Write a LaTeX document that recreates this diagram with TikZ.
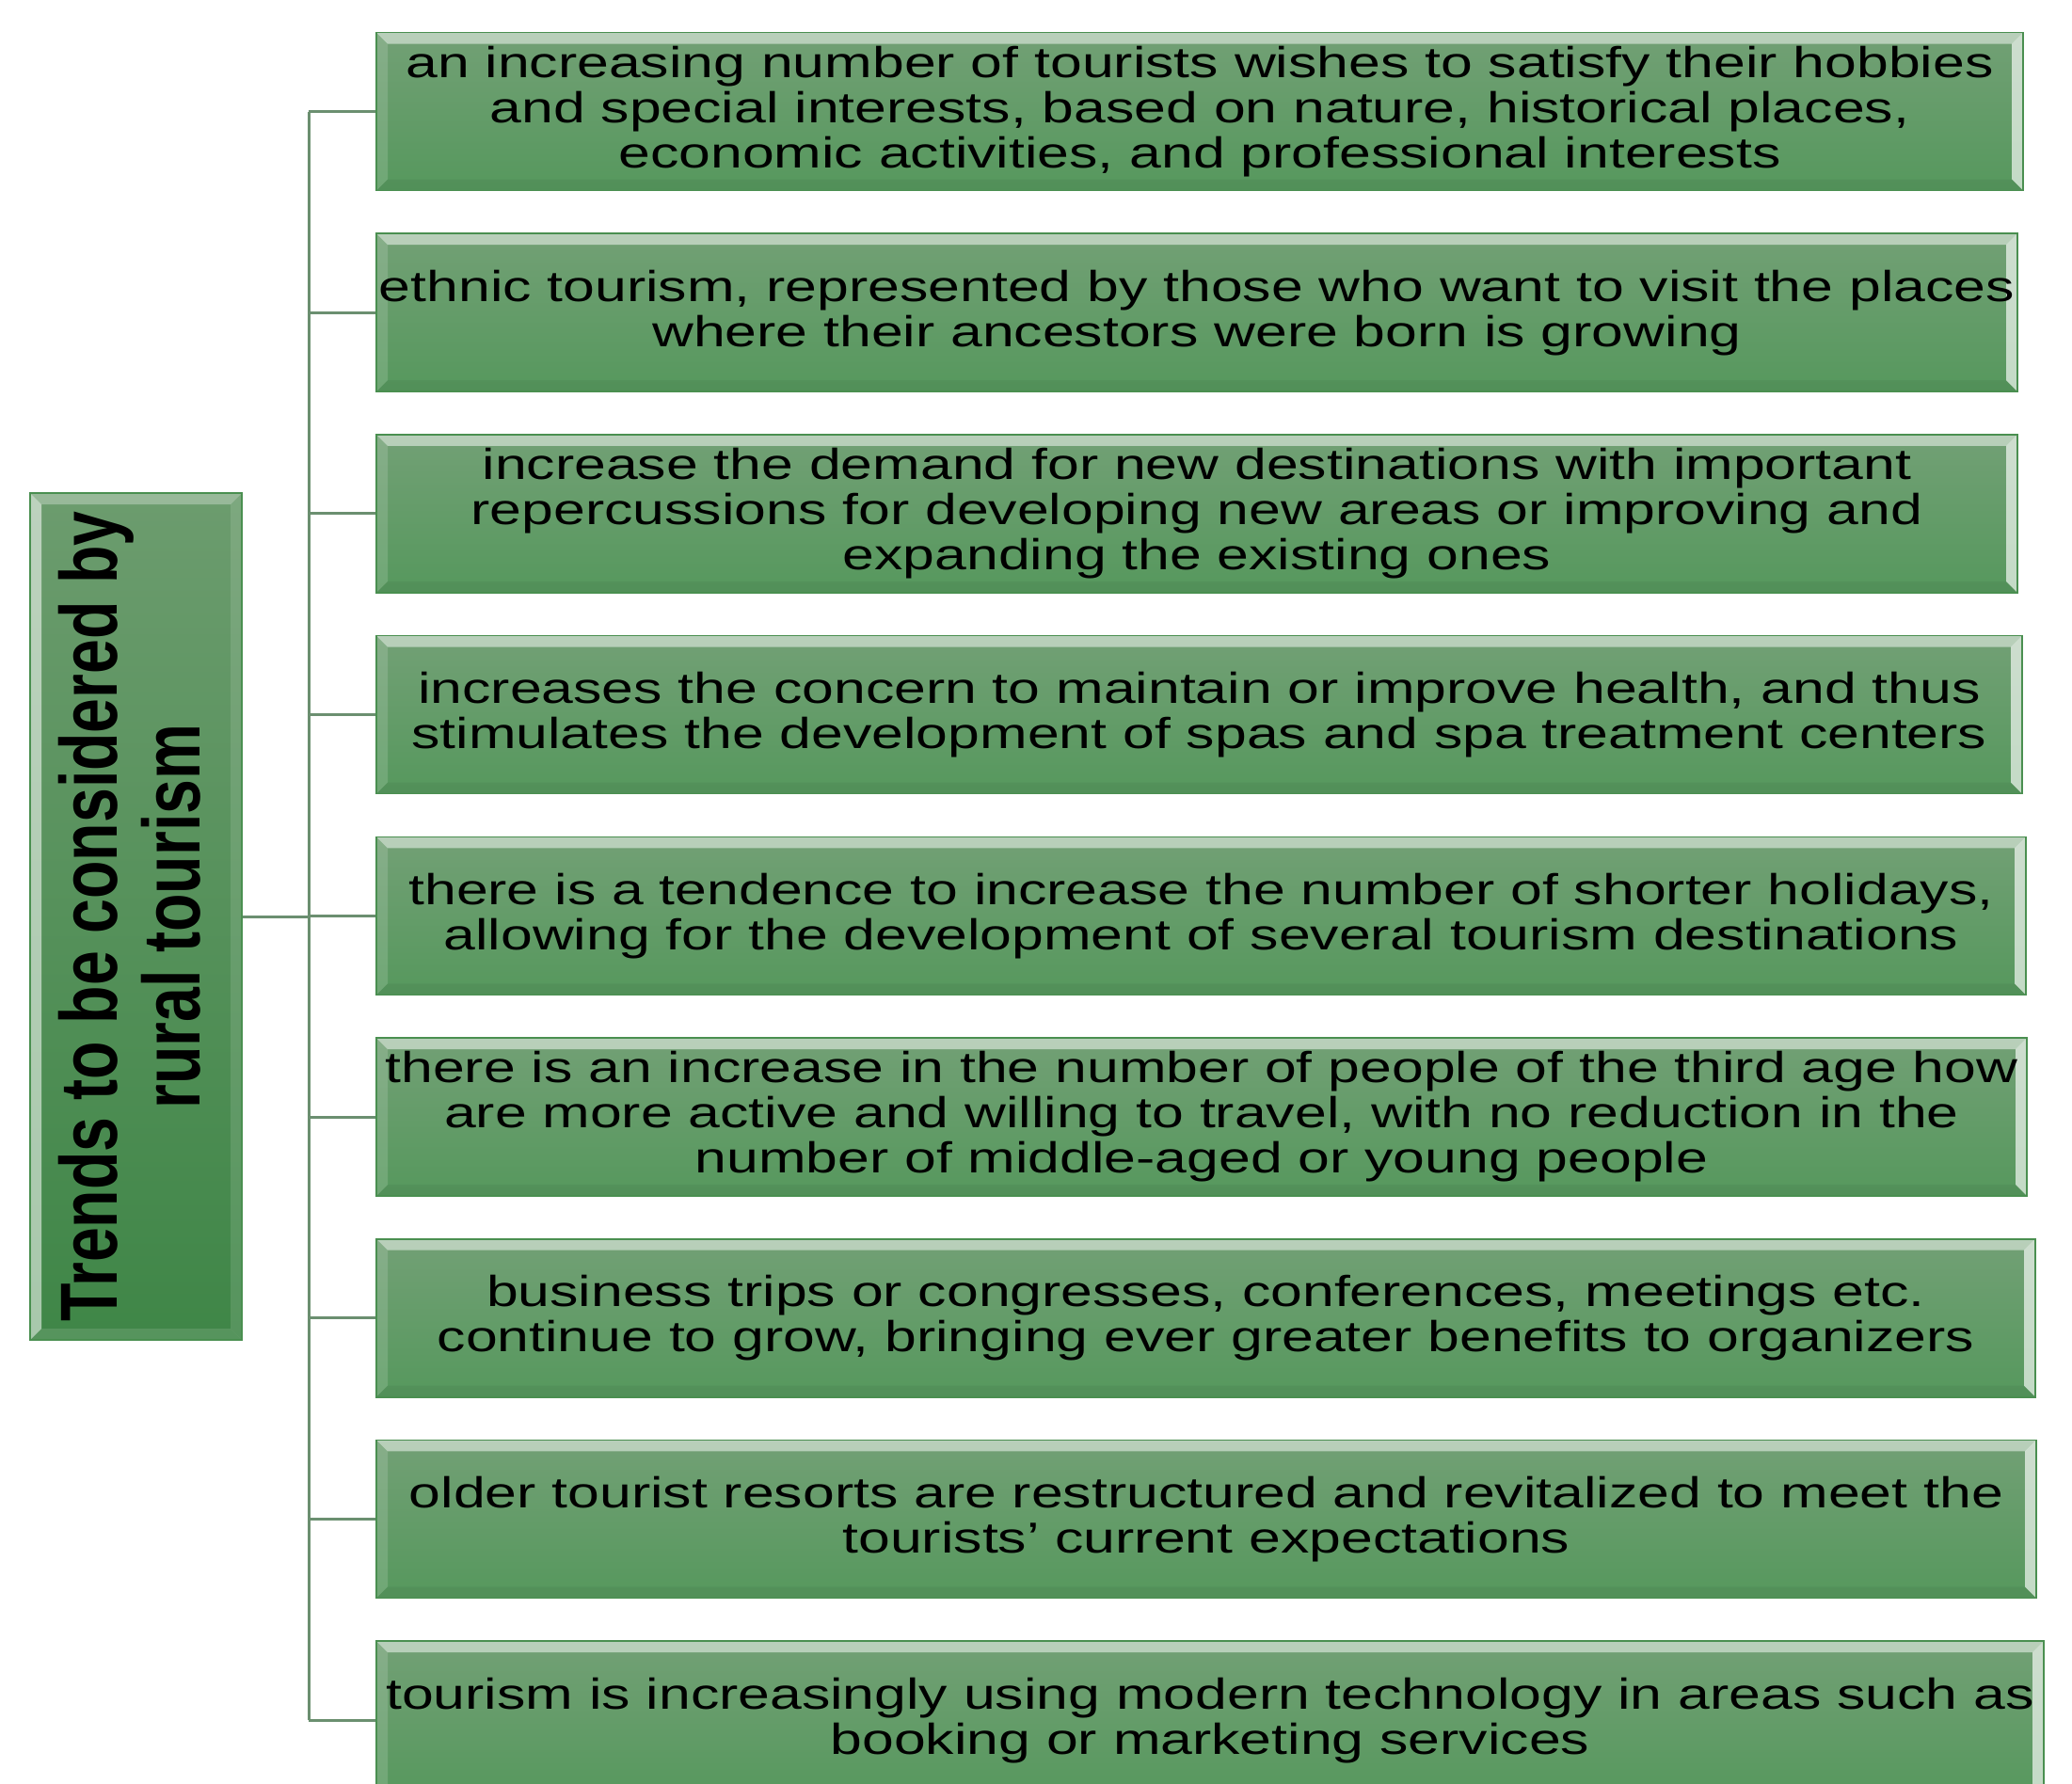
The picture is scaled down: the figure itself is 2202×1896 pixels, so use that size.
\documentclass[tikz,border=0pt]{standalone}
\usepackage{fontspec}
\setmainfont{Liberation Sans}
\newfontfamily\boxfont[FakeStretch=1.32]{Liberation Sans}
\newfontfamily\leftfont[FakeStretch=0.77]{Liberation Sans}
\definecolor{boxtop}{HTML}{72A075}
\definecolor{boxbot}{HTML}{56985D}
\definecolor{boxedge}{HTML}{4A8F50}
\definecolor{lefttop}{HTML}{6C9C6E}
\definecolor{leftbot}{HTML}{3F8647}
\definecolor{connc}{HTML}{6B8F70}
\newcommand{\bw}{6pt}
\newcommand{\mybevel}[4]{%
  \path (path picture bounding box.north west) coordinate (pNW)
        (path picture bounding box.north east) coordinate (pNE)
        (path picture bounding box.south west) coordinate (pSW)
        (path picture bounding box.south east) coordinate (pSE);
  \fill[white,opacity=#1] (pNW) -- (pNE) -- ([shift={(-\bw,-\bw)}]pNE) -- ([shift={(\bw,-\bw)}]pNW) -- cycle;
  \fill[white,opacity=#2] (pNW) -- ([shift={(\bw,-\bw)}]pNW) -- ([shift={(\bw,\bw)}]pSW) -- (pSW) -- cycle;
  \fill[white,opacity=#3] (pNE) -- (pSE) -- ([shift={(-\bw,\bw)}]pSE) -- ([shift={(-\bw,-\bw)}]pNE) -- cycle;
  \fill[#4] (pSW) -- ([shift={(\bw,\bw)}]pSW) -- ([shift={(-\bw,\bw)}]pSE) -- (pSE) -- cycle;
}
\tikzset{
  trend/.style={draw=boxedge, line width=0.8pt, top color=boxtop, bottom color=boxbot,
    minimum height=84pt, inner sep=0pt, align=center, text=black,
    font={\boxfont\fontsize{23pt}{24pt}\selectfont},
    path picture={\mybevel{0.5}{0.15}{0.65}{black,opacity=0.05}}},
  leftbox/.style={draw=boxedge, line width=0.8pt, top color=lefttop, bottom color=leftbot,
    inner sep=0pt,
    path picture={\mybevel{0.3}{0.55}{0.12}{white,opacity=0.12}}},
  lefttext/.style={align=center, inner sep=0pt, text=black,
    font={\leftfont\bfseries\fontsize{43pt}{44pt}\selectfont}},
  conn/.style={draw=connc, line width=1.5pt}
}
\begin{document}
\begin{tikzpicture}[x=0.5pt,y=-0.5pt]
\useasboundingbox (0,0) rectangle (2202,1896);
\clip (0,0) rectangle (2202,1896);
\coordinate (spine) at (328,0);
\node[leftbox, minimum width=112.5pt, minimum height=450pt] (root) at (144.5,974) {};
\node[lefttext, rotate=90] (roottext) at (138,974) {Trends to be considered by\\rural tourism};
\node[trend, minimum width=875pt] (b1) at (1275,118.5) {an increasing number of tourists wishes to satisfy their hobbies\\and special interests, based on nature, historical places,\\economic activities, and professional interests};
\node[trend, minimum width=872pt] (b2) at (1272,332.2) {ethnic tourism, represented by those who want to visit the places\\where their ancestors were born is growing};
\node[trend, minimum width=872pt] (b3) at (1272,545.9) {increase the demand for new destinations with important\\repercussions for developing new areas or improving and\\expanding the existing ones};
\node[trend, minimum width=874.5pt] (b4) at (1274.5,759.6) {increases the concern to maintain or improve health, and thus\\stimulates the development of spas and spa treatment centers};
\node[trend, minimum width=876.5pt] (b5) at (1276.5,973.3) {there is a tendence to increase the number of shorter holidays,\\allowing for the development of several tourism destinations};
\node[trend, minimum width=877pt] (b6) at (1277,1187) {there is an increase in the number of people of the third age how\\are more active and willing to travel, with no reduction in the\\number of middle-aged or young people};
\node[trend, minimum width=881.5pt] (b7) at (1281.5,1400.7) {business trips or congresses, conferences, meetings etc.\\continue to grow, bringing ever greater benefits to organizers};
\node[trend, minimum width=882pt] (b8) at (1282,1614.4) {older tourist resorts are restructured and revitalized to meet the\\tourists’ current expectations};
\node[trend, minimum width=886pt] (b9) at (1286,1828.1) {tourism is increasingly using modern technology in areas such as\\booking or marketing services};
\foreach \i in {1,...,9} \draw[conn] (b\i.west) -- (b\i.west -| spine);
\draw[conn] (b1.west -| spine) -- (b9.west -| spine);
\draw[conn] (root.east) -- (root.east -| spine);
\end{tikzpicture}
\end{document}
